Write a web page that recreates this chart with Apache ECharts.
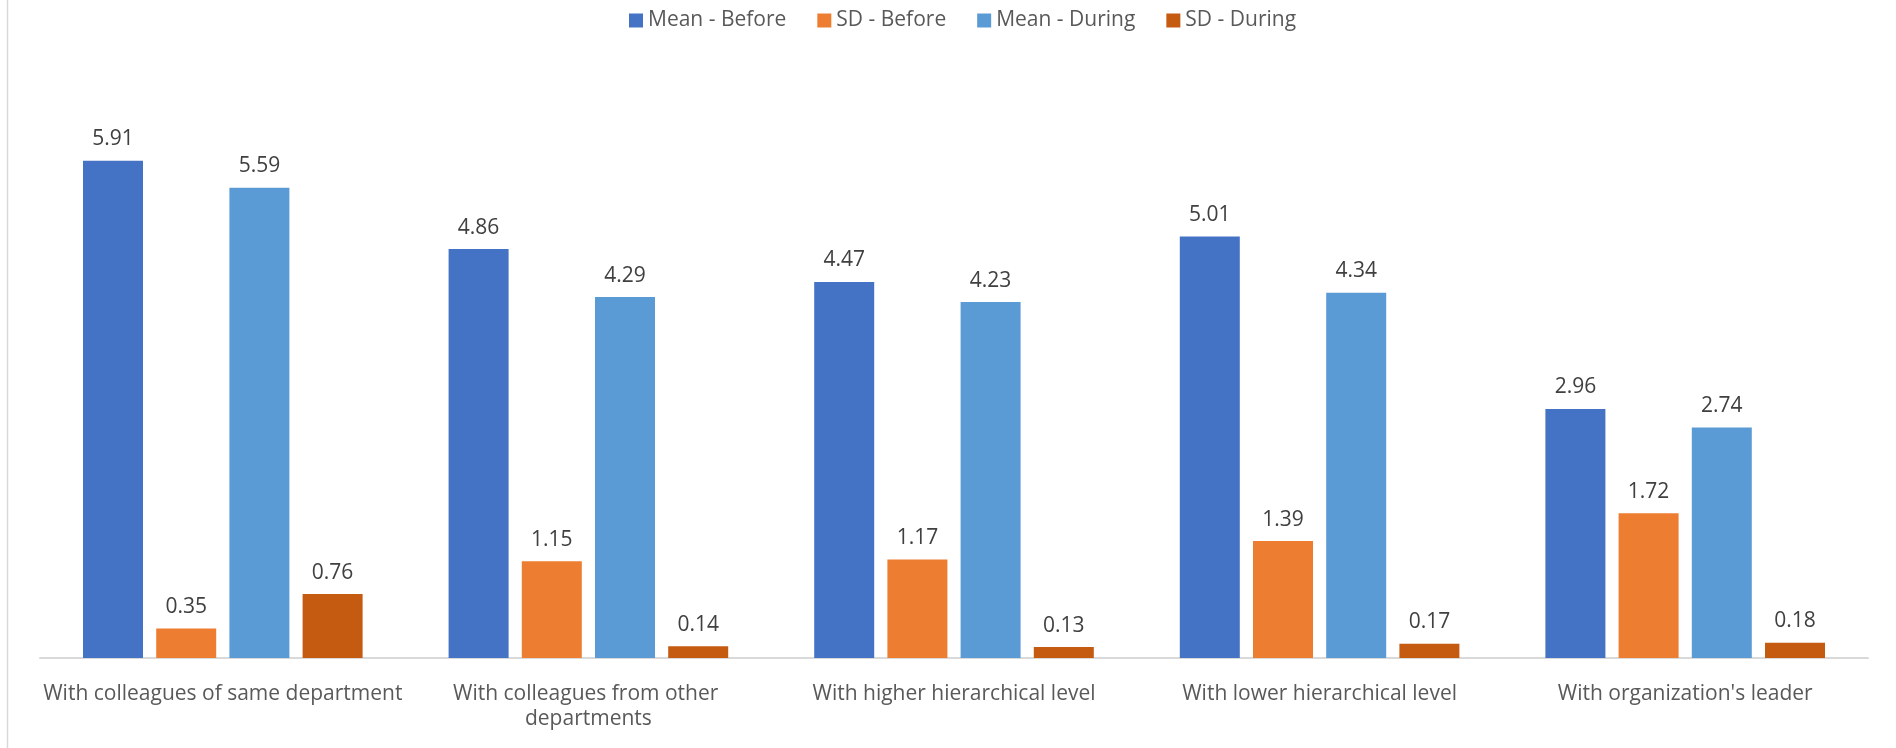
<!DOCTYPE html>
<html>
<head>
<meta charset="utf-8">
<style>
  html, body { margin: 0; padding: 0; background: #ffffff; }
  #chart { width: 1896px; height: 748px; }
</style>
<script src="https://cdn.jsdelivr.net/npm/echarts@6/dist/echarts.min.js"></script>
</head>
<body>
<div id="chart"></div>
<script>
// Communication frequency: mean and standard deviation, before vs. during
const categories = [
  "With colleagues of same department",
  "With colleagues from other departments",
  "With higher hierarchical level",
  "With lower hierarchical level",
  "With organization's leader"
];
const seriesNames = ["Mean - Before", "SD - Before", "Mean - During", "SD - During"];
const meanBefore = [5.91, 4.86, 4.47, 5.01, 2.96];
const sdBefore   = [0.35, 1.15, 1.17, 1.39, 1.72];
const meanDuring = [5.59, 4.29, 4.23, 4.34, 2.74];
const sdDuring   = [0.76, 0.14, 0.13, 0.17, 0.18];
const colors = ["#4472C4", "#ED7D31", "#5B9BD5", "#C55A11"];

const FONT = "'Open Sans', 'Noto Sans', sans-serif";
const values = [meanBefore, sdBefore, meanDuring, sdDuring];

const chart = echarts.init(document.getElementById('chart'), null, { renderer: 'canvas' });
chart.setOption({
  animation: false,
  backgroundColor: '#ffffff',
  color: colors,
  legend: {
    top: 5,
    left: 624,
    itemWidth: 14,
    itemHeight: 14,
    itemGap: 31,
    icon: 'rect',
    textStyle: { color: '#595959', fontSize: 21, fontFamily: FONT },
    data: seriesNames
  },
  grid: { left: 40, right: 28, top: 69, bottom: 90, containLabel: false },
  xAxis: {
    type: 'category',
    data: categories,
    axisLine: { lineStyle: { color: '#D9D9D9', width: 2 } },
    axisTick: { show: false },
    axisLabel: {
      color: '#595959',
      fontSize: 21,
      fontFamily: FONT,
      margin: 24,
      lineHeight: 25,
      width: 364,
      overflow: 'break',
      interval: 0
    }
  },
  yAxis: {
    type: 'value',
    min: 0,
    max: 7,
    interval: 1,
    show: false
  },
  graphic: [{
    type: 'line',
    shape: { x1: 7.5, y1: 0, x2: 7.5, y2: 748 },
    style: { stroke: '#D9D9D9', lineWidth: 1.5 }
  }],
  series: seriesNames.map((name, i) => ({
    name: name,
    type: 'bar',
    data: values[i],
    barWidth: 60,
    barGap: '22%',
    itemStyle: { color: colors[i] },
    label: {
      show: true,
      position: 'top',
      distance: 11,
      color: '#404040',
      fontSize: 21,
      fontFamily: FONT,
      formatter: p => p.value.toFixed(2)
    }
  }))
});
</script>
</body>
</html>
